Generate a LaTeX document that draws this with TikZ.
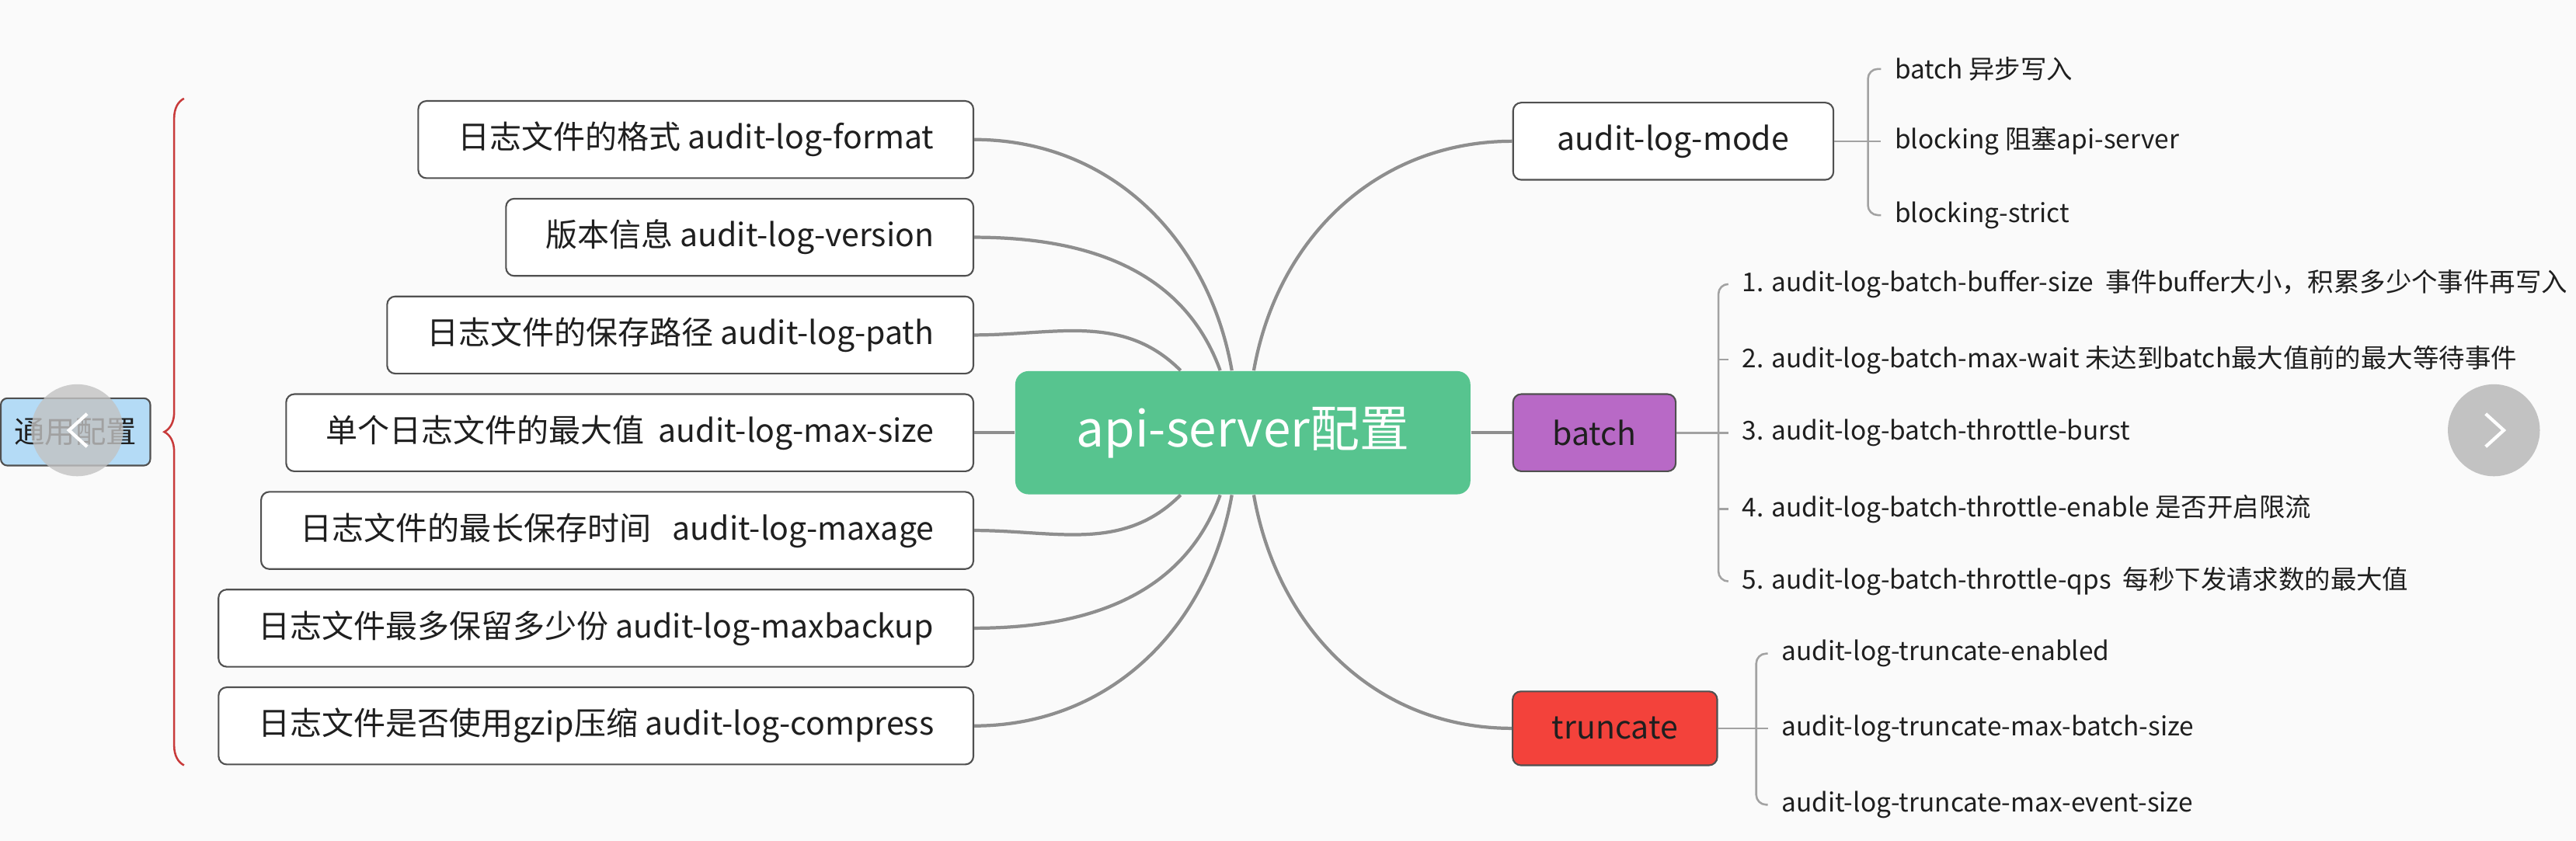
\documentclass[tikz,border=0pt]{standalone}
\usepackage{fontspec}
\setmainfont{Noto Sans CJK SC}
\usepackage{tikz}
\usetikzlibrary{decorations.pathreplacing}
\definecolor{rootgreen}{HTML}{57C48F}
\definecolor{batchpurple}{HTML}{B869C6}
\definecolor{truncred}{HTML}{F3423B}
\definecolor{commonblue}{HTML}{B4DBF6}
\definecolor{linegray}{HTML}{8E8E8E}
\definecolor{spinegray}{HTML}{A2A2A2}
\definecolor{bordergray}{HTML}{505050}
\definecolor{bracered}{HTML}{C83A3A}
\definecolor{textdark}{HTML}{1F1F1F}
\definecolor{paper}{HTML}{FAFAFA}
\definecolor{navgray}{HTML}{C2C2C2}
\tikzstyle{optbox}=[draw=bordergray, fill=white, rounded corners=2.5pt, line width=0.5pt,
  minimum height=23.5pt, inner xsep=12pt, text=textdark,
  font=\fontsize{9.7}{12}\selectfont, anchor=east]
\tikzstyle{topic}=[optbox, anchor=center]
\tikzstyle{root}=[fill=rootgreen, rounded corners=4pt, minimum width=138.5pt,
  minimum height=37.5pt, text=white, font=\fontsize{15.1}{18}\selectfont]
\tikzstyle{common}=[draw=bordergray, fill=commonblue, rounded corners=2pt, line width=0.5pt,
  minimum width=45.5pt, minimum height=20.5pt, text=textdark,
  font=\fontsize{9.3}{11}\selectfont]
\tikzstyle{subopt}=[anchor=west, inner xsep=4pt, inner ysep=1pt, text=textdark,
  font=\fontsize{7.9}{10}\selectfont]
\tikzstyle{spine}=[draw=spinegray, line width=0.6pt, rounded corners=3pt]
\newcommand{\optbox}{\node[optbox]}
\newcommand{\subopt}{\node[subopt]}

\begin{document}
\begin{tikzpicture}[x=0.5pt, y=0.5pt
    ,every edge/.style={draw=linegray, line width=1pt}
]
\fill[paper] (0,0) rectangle (1568,-512);
\useasboundingbox (0,0) rectangle (1568,-512);

% common options, grouped by the brace
\node[common] (common) at (46,-263) {通用配置};
\coordinate (bracetop) at (112,-60);
\coordinate (bracebot) at (112,-466);
\draw[bracered, line width=0.6pt, decorate, decoration={brace, amplitude=6pt}]
  (bracebot) -- (bracetop);

\optbox (fmt)    at (593,-85)    {日志文件的格式 audit-log-format};
\optbox (ver)    at (593,-144.5) {版本信息 audit-log-version};
\optbox (path)   at (593,-204)   {日志文件的保存路径 audit-log-path};
\optbox (size)   at (593,-263.5) {单个日志文件的最大值\ \ audit-log-max-size};
\optbox (age)    at (593,-323)   {日志文件的最长保存时间\ \ \ audit-log-maxage};
\optbox (backup) at (593,-382.5) {日志文件最多保留多少份 audit-log-maxbackup};
\optbox (gzip)   at (593,-442)   {日志文件是否使用gzip压缩 audit-log-compress};

\node[root] (root) at (756.5,-263.5) {api-server配置};

% right side
\node[topic, minimum width=97.5pt] (mode) at (1018.5,-86) {audit-log-mode};
\node[topic, fill=batchpurple, minimum width=49.5pt] (batch) at (970.5,-263.5) {batch};
\node[topic, fill=truncred, minimum width=62pt, minimum height=22.5pt] (trunc) at (983,-443.5) {truncate};

\subopt (m1) at (1145,-42)  {batch 异步写入};
\subopt (m2) at (1145,-86)  {blocking 阻塞api-server};
\subopt (m3) at (1145,-131) {blocking-strict};

\subopt (b1) at (1052,-173)   {1. audit-log-batch-buffer-size\ \ 事件buffer大小，积累多少个事件再写入};
\subopt (b2) at (1052,-219)   {2. audit-log-batch-max-wait 未达到batch最大值前的最大等待事件};
\subopt (b3) at (1052,-263.5) {3. audit-log-batch-throttle-burst};
\subopt (b4) at (1052,-310)   {4. audit-log-batch-throttle-enable 是否开启限流};
\subopt (b5) at (1052,-354)   {5. audit-log-batch-throttle-qps\ \ 每秒下发请求数的最大值};

\subopt (t1) at (1076,-398)   {audit-log-truncate-enabled};
\subopt (t2) at (1076,-443.5) {audit-log-truncate-max-batch-size};
\subopt (t3) at (1076,-490)   {audit-log-truncate-max-event-size};

\path
(root) edge[out=100,in=0] (fmt)
       edge[out=110,in=0] (ver)
       edge[out=135,in=0] (path)
       edge (size)
       edge[out=-135,in=0] (age)
       edge[out=-110,in=0] (backup)
       edge[out=-100,in=0] (gzip)
       edge[out=80,in=180] (mode)
       edge (batch)
       edge[out=-80,in=180] (trunc)
;

% brackets of the sub options
\coordinate (mspine) at (1137,0);
\coordinate (bspine) at (1046,0);
\coordinate (tspine) at (1069,0);
\draw[spine] (m1.west) -| (mspine |- m3.west) -- (m3.west);
\draw[spine] (mode.east) -- (m2.west);
\draw[spine] (b1.west) -| (bspine |- b5.west) -- (b5.west);
\draw[spine] (batch.east) -- (b3.west);
\draw[spine] (bspine |- b2.west) -- (b2.west);
\draw[spine] (bspine |- b4.west) -- (b4.west);
\draw[spine] (t1.west) -| (tspine |- t3.west) -- (t3.west);
\draw[spine] (trunc.east) -- (t2.west);

% viewer buttons
\fill[navgray, opacity=0.8] (47,-262) circle (28);
\draw[white, line width=1pt] (53,-252) -- (42,-262) -- (53,-272);
\fill[navgray] (1518,-262) circle (28);
\draw[white, line width=1pt] (1513,-252) -- (1524,-262) -- (1513,-272);
\end{tikzpicture}
\end{document}
